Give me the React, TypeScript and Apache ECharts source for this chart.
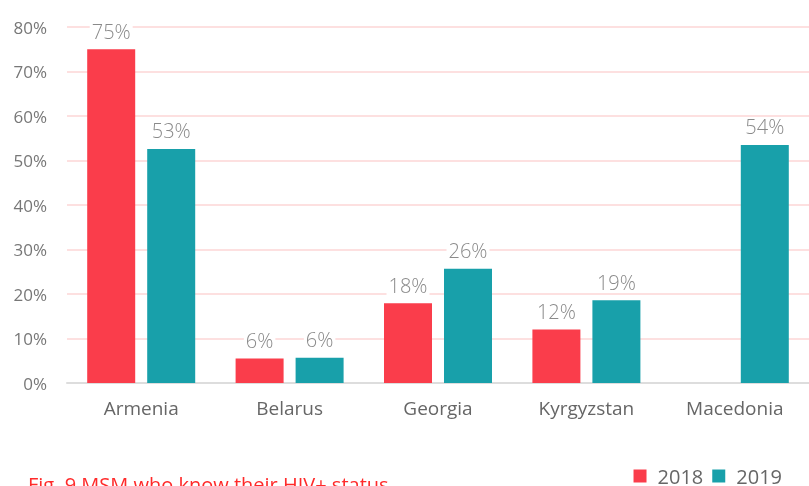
import React, { useEffect, useRef } from "react";
import * as echarts from "echarts";

const categories = ["Armenia", "Belarus", "Georgia", "Kyrgyzstan", "Macedonia"];
const values2018: (number | null)[] = [75, 5.5, 17.9, 12, null];
const values2019: (number | null)[] = [52.6, 5.7, 25.7, 18.6, 53.5];
const yTicks = [0, 10, 20, 30, 40, 50, 60, 70, 80];
const titleText = "Fig. 9 MSM who know their HIV+ status";

const FONT = "'Open Sans', 'DejaVu Sans', sans-serif";

export default function App() {
  const ref = useRef<HTMLDivElement>(null);
  useEffect(() => {
    if (!ref.current) return;
    const chart = echarts.init(ref.current, null, { renderer: "svg" });
    const label = {
      show: true,
      position: "top" as const,
      distance: 8,
      color: "#8a8a8a",
      fontSize: 20,
      fontFamily: FONT,
      fontWeight: 300,
      backgroundColor: "#ffffff",
      padding: [0, 2],
      formatter: (p: any) => (p.value == null ? "" : Math.round(p.value) + "%"),
    };
    chart.setOption({
      animation: false,
      title: {
        text: titleText,
        left: 28,
        top: 474,
        padding: 0,
        textStyle: { color: "#ff2a2a", fontSize: 20, fontWeight: "normal", fontFamily: FONT },
      },
      legend: {
        data: ["2018", "2019"],
        right: 27,
        top: 466,
        padding: 0,
        itemWidth: 13,
        itemHeight: 13,
        itemGap: 9,
        icon: "rect",
        textStyle: { color: "#666", fontSize: 20, fontFamily: FONT, padding: [0, 0, 0, 6] },
      },
      grid: { left: 67, right: -8, top: 27, bottom: 103, containLabel: false },
      xAxis: {
        type: "category",
        data: categories,
        axisLine: { lineStyle: { color: "#dddddd", width: 2 } },
        axisTick: { show: false },
        axisLabel: { color: "#666", fontSize: 19, fontFamily: FONT, margin: 15 },
      },
      yAxis: {
        type: "value",
        min: yTicks[0],
        max: yTicks[yTicks.length - 1],
        interval: 10,
        axisLine: { show: false },
        axisTick: { show: false },
        axisLabel: {
          color: "#777",
          fontSize: 17,
          fontFamily: FONT,
          margin: 20,
          formatter: (v: number) => v + "%",
        },
        splitLine: { lineStyle: { color: "#fde0e0", width: 2 } },
      },
      series: [
        {
          name: "2018",
          type: "bar",
          data: values2018,
          barWidth: 48,
          barGap: "25%",
          itemStyle: { color: "#fa3d4b" },
          label,
        },
        {
          name: "2019",
          type: "bar",
          data: values2019,
          barWidth: 48,
          barGap: "25%",
          itemStyle: { color: "#18a0aa" },
          label,
        },
      ],
    });
    return () => chart.dispose();
  }, []);
  return (
    <div
      ref={ref}
      style={{ position: "fixed", left: 0, top: 0, width: 809, height: 486, overflow: "hidden" }}
    />
  );
}
